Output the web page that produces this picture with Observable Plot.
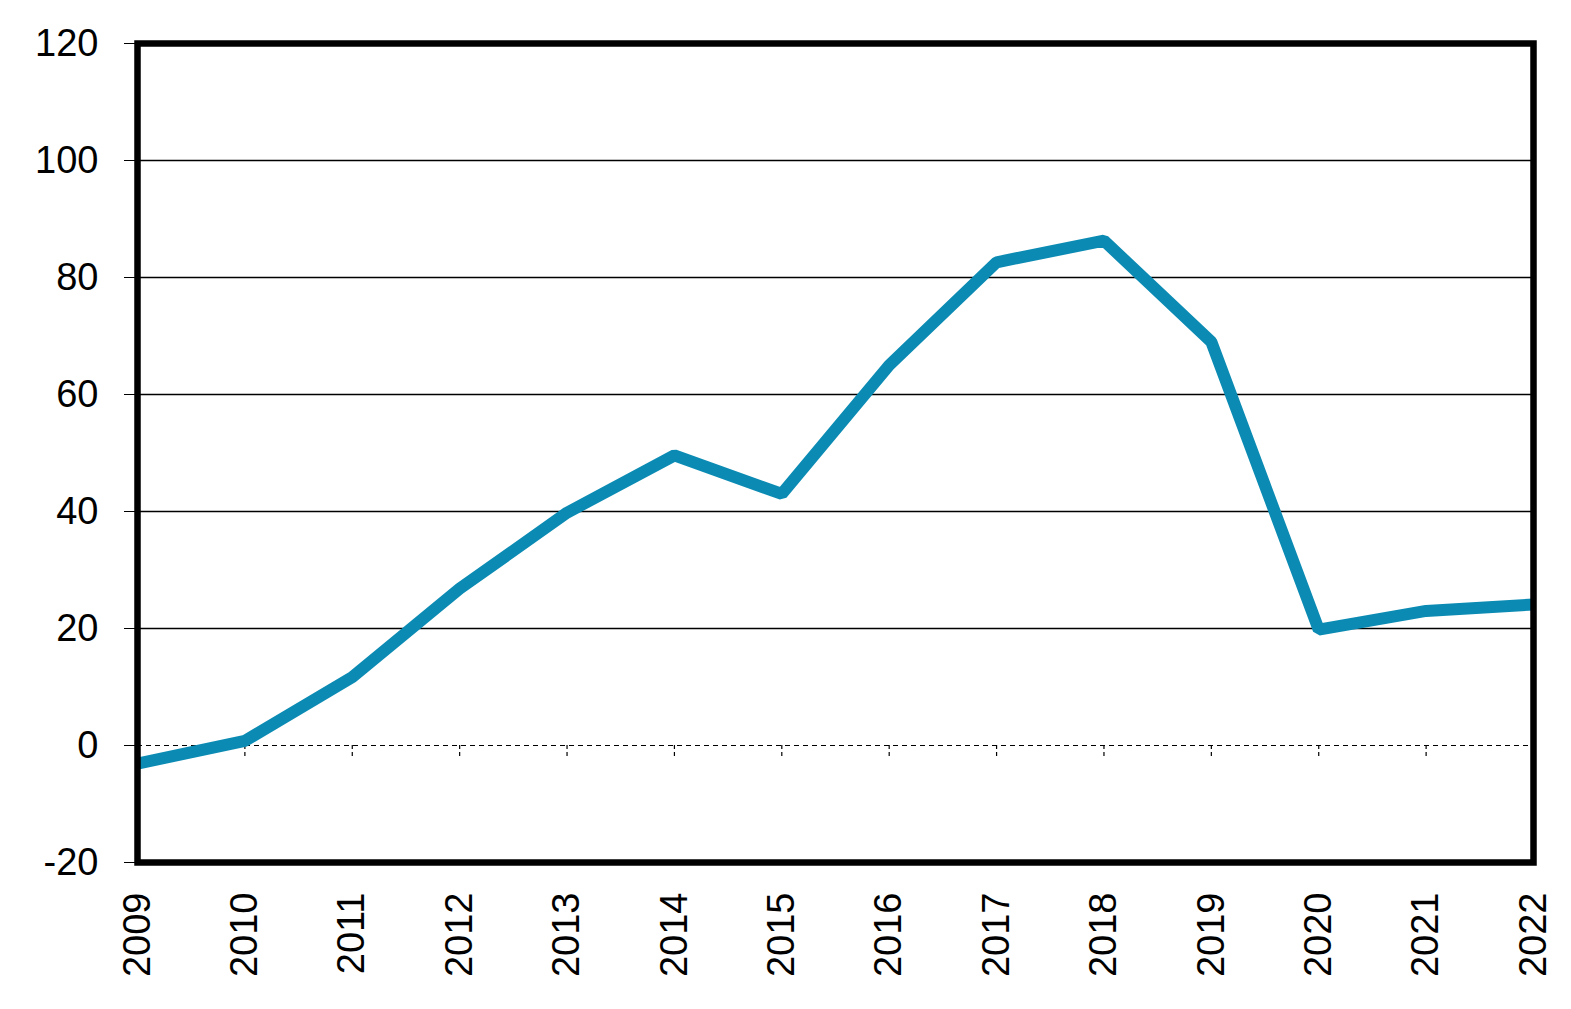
<!DOCTYPE html>
<html>
<head>
<meta charset="utf-8">
<script src="https://cdn.jsdelivr.net/npm/d3@7"></script>
<script src="https://cdn.jsdelivr.net/npm/@observablehq/plot@0.6"></script>
<style>
  html, body { margin: 0; padding: 0; background: #fff; }
  #chart svg { display: block; }
</style>
</head>
<body>
<div id="chart"></div>
<script>
const years = [2009, 2010, 2011, 2012, 2013, 2014, 2015, 2016, 2017, 2018, 2019, 2020, 2021, 2022];
const values = [-3.1, 0.8, 11.7, 26.8, 39.8, 49.6, 43.0, 65.0, 82.6, 86.3, 69.0, 19.8, 23.0, 24.1];
const yTicks = [-20, 0, 20, 40, 60, 80, 100, 120];
const gridValues = [20, 40, 60, 80, 100];
const innerYears = years.slice(1, -1);

const data = years.map((year, i) => ({year, value: values[i]}));

const chart = Plot.plot({
  width: 1571,
  height: 1009,
  marginLeft: 137,
  marginRight: 38,
  marginTop: 43,
  marginBottom: 147,
  style: {fontFamily: "'Liberation Sans', Arial, sans-serif", fontSize: "38px", color: "black", background: "white"},
  x: {domain: [2009, 2022]},
  y: {domain: [-20, 120]},
  marks: [
    Plot.ruleY(gridValues, {stroke: "black", strokeWidth: 1.3}),
    Plot.ruleY([0], {stroke: "black", strokeWidth: 1.2, strokeDasharray: "5,4"}),
    Plot.ruleX(innerYears, {y1: 0, y2: -2.4, stroke: "black", strokeWidth: 1.2, strokeDasharray: "4,3"}),
    Plot.axisY({ticks: yTicks, tickSize: 13, tickPadding: 26, fontSize: 38, label: null, tickFormat: d => String(d)}),
    Plot.axisX({ticks: years, tickSize: 0, tickRotate: -90, tickPadding: 30, fontSize: 38, label: null, tickFormat: d => String(d)}),
    Plot.line(data, {x: "year", y: "value", stroke: "#0b8bb3", strokeWidth: 12, strokeLinejoin: "miter", strokeLinecap: "butt"}),
    Plot.frame({stroke: "black", strokeWidth: 6.5})
  ]
});
document.getElementById("chart").appendChild(chart);
</script>
</body>
</html>
